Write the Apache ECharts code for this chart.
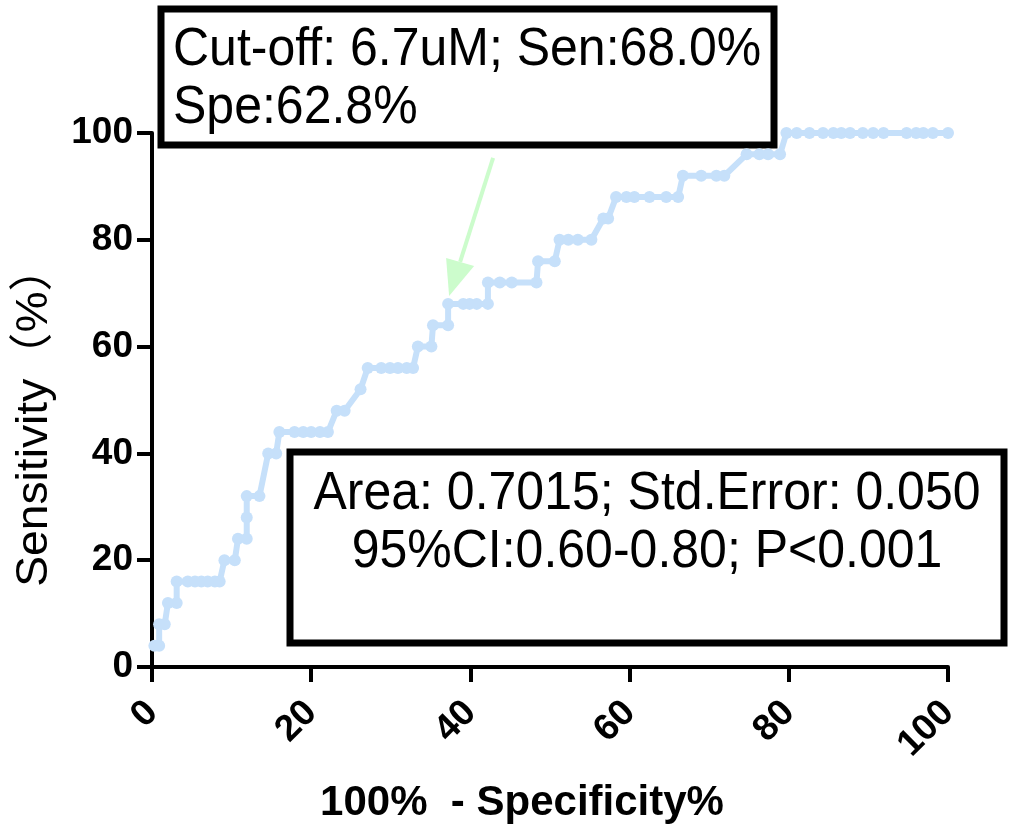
<!DOCTYPE html>
<html>
<head>
<meta charset="utf-8">
<title>ROC</title>
<script src="https://cdn.jsdelivr.net/npm/echarts@6/dist/echarts.min.js"></script>
<style>
  html, body { margin: 0; padding: 0; background: #fff; }
  #main { width: 1020px; height: 833px; }
</style>
</head>
<body>
<div id="main"></div>
<script>
// 100% - Specificity% (x) and Sensitivity% (y)
var fpr = [0.3, 0.9, 0.9, 1.6, 2.0, 3.1, 3.1, 4.5, 5.4, 6.2, 7.0, 7.9, 8.5,
    9.1, 10.4, 10.8, 11.9, 11.9, 11.9, 13.5, 14.6, 15.6, 16.0, 17.9, 19.0,
    20.0, 21.1, 22.1, 23.2, 24.2, 26.2, 27.1, 28.8, 29.9, 30.9, 32.0, 32.8,
    33.4, 35.1, 35.3, 37.2, 37.2, 39.1, 39.9, 40.8, 42.2, 42.2, 43.7, 45.2,
    48.3, 48.5, 50.6, 51.2, 52.3, 53.5, 55.2, 56.7, 57.3, 58.3, 59.6, 60.6,
    62.5, 64.6, 66.1, 66.7, 69.0, 70.9, 71.9, 74.7, 76.3, 77.4, 78.9, 79.7,
    81.0, 82.6, 84.3, 85.6, 86.6, 87.7, 89.3, 90.6, 91.9, 94.8, 96.0, 96.9,
    98.1, 100];
var sens = [4, 4, 8, 8, 12, 12, 16, 16, 16, 16, 16, 16, 16,
    20, 20, 24, 24, 28, 32, 32, 40, 40, 44, 44, 44,
    44, 44, 44, 48, 48, 52, 56, 56, 56, 56, 56, 56,
    60, 60, 64, 64, 68, 68, 68, 68, 68, 72, 72, 72,
    72, 76, 76, 80, 80, 80, 80, 84, 84, 88, 88, 88,
    88, 88, 88, 92, 92, 92, 92, 96, 96, 96, 96, 100,
    100, 100, 100, 100, 100, 100, 100, 100, 100, 100, 100, 100,
    100, 100];
var xTicks = [0, 20, 40, 60, 80, 100];
var yTicks = [0, 20, 40, 60, 80, 100];
var cutoff = [37.2, 68];
var yName = 'Sensitivity（%）';
var xName = '100%  - Specificity%';
var cutoffText = ['Cut-off: 6.7uM; Sen:68.0%', 'Spe:62.8%'];
var areaText = ['Area: 0.7015; Std.Error: 0.050', '95%CI:0.60-0.80; P<0.001'];

var FONT = '"Liberation Sans", Arial, "Noto Sans CJK SC", sans-serif';
var curveColor = '#c6e0fa';
var arrowColor = '#ccfccc';

var myChart = echarts.init(document.getElementById('main'));

var axisCommon = {
    type: 'value',
    min: 0,
    max: 100,
    interval: 20,
    splitLine: { show: false },
    axisLine: { show: true, lineStyle: { color: '#000', width: 4 } },
    axisTick: { show: true, length: 15, lineStyle: { color: '#000', width: 4 } },
    nameLocation: 'middle'
};

var option = {
    animation: false,
    backgroundColor: '#fff',
    grid: { left: 152, right: 72, top: 133, bottom: 166, containLabel: false },
    xAxis: Object.assign({}, axisCommon, {
        name: xName,
        nameGap: 115,
        nameTextStyle: {
            fontFamily: FONT, fontSize: 42, fontWeight: 'bold', color: '#000',
            padding: [0, 56, 0, 0]
        },
        axisLabel: {
            rotate: 45, margin: 40,
            fontFamily: FONT, fontSize: 37, fontWeight: 'bold', color: '#000',
            formatter: function (v) { return xTicks.indexOf(v) >= 0 ? String(v) : ''; }
        }
    }),
    yAxis: Object.assign({}, axisCommon, {
        axisLabel: {
            margin: 19,
            fontFamily: FONT, fontSize: 37, fontWeight: 'bold', color: '#000',
            formatter: function (v) { return yTicks.indexOf(v) >= 0 ? String(v) : ''; }
        }
    }),
    series: [{
        type: 'line',
        data: fpr.map(function (x, i) { return [x, sens[i]]; }),
        clip: false,
        symbol: 'circle',
        symbolSize: 12,
        showAllSymbol: true,
        lineStyle: { color: curveColor, width: 6 },
        itemStyle: { color: curveColor }
    }]
};
myChart.setOption(option);

// 标注框、箭头和纵轴标题
var tip = myChart.convertToPixel({ gridIndex: 0 }, cutoff);
tip = [tip[0] + 1, tip[1] - 8];
var tail = [tip[0] + 44, tip[1] - 138];
var headA = [tip[0] - 3, tip[1] - 38];
var headB = [tip[0] + 25, tip[1] - 30];
var headMid = [(headA[0] + headB[0]) / 2, (headA[1] + headB[1]) / 2];

function boxText(lines, x, y0, align) {
    return lines.map(function (t, i) {
        return {
            type: 'text',
            x: x, y: y0 + i * 58,
            scaleY: 1.06,
            style: {
                text: t, x: 0, y: 0,
                font: '50px ' + FONT, fill: '#000',
                textAlign: align, textVerticalAlign: 'middle'
            }
        };
    });
}

myChart.setOption({
    graphic: [
        {
            type: 'text',
            x: 35, y: 416,
            rotation: Math.PI / 2,
            scaleX: 1.05,
            style: {
                text: yName, x: 0, y: 0,
                font: '44px ' + FONT, fill: '#000',
                textAlign: 'center', textVerticalAlign: 'middle'
            }
        },
        {
            type: 'line',
            shape: { x1: tail[0], y1: tail[1], x2: headMid[0], y2: headMid[1] },
            style: { stroke: arrowColor, lineWidth: 4 }
        },
        {
            type: 'polygon',
            shape: { points: [headA, headB, tip] },
            style: { fill: arrowColor }
        },
        {
            type: 'rect',
            shape: { x: 161, y: 9, width: 613, height: 136 },
            style: { fill: '#fff', stroke: '#000', lineWidth: 7 }
        },
        {
            type: 'rect',
            shape: { x: 290, y: 452, width: 714, height: 191 },
            style: { fill: '#fff', stroke: '#000', lineWidth: 7 }
        }
    ].concat(boxText(cutoffText, 173, 50, 'left'))
     .concat(boxText(areaText, 647, 494, 'center'))
});
</script>
</body>
</html>
